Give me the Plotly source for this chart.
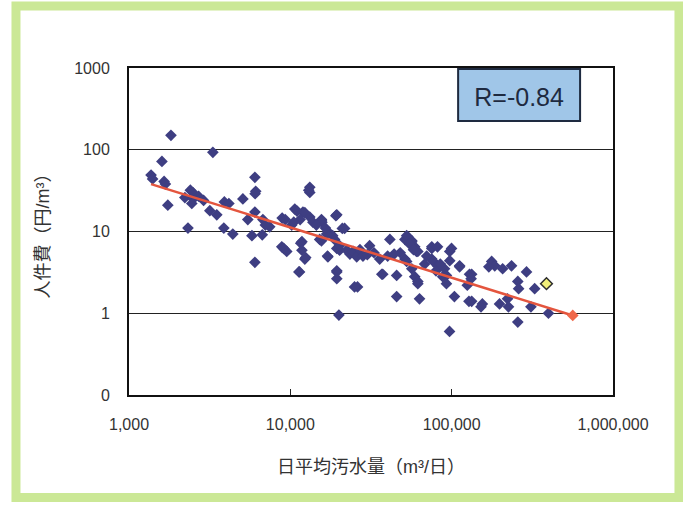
import plotly.graph_objects as go

# Daily average sewage volume (m3/day) and personnel cost (yen/m3)
flow = [
    1370, 1400, 1600, 1650, 1680, 1740, 1820, 2220, 2320, 2400, 2490, 2500, 2450, 2700,
    3170, 3310, 3870, 3900, 4160, 4400, 2900, 3500,
    5080, 5450, 5780, 6030, 6100, 6050, 6030, 6030, 6760, 6700, 7450, 7000, 8900, 8850,
    9300, 9500, 9100,
    10660, 11000, 11970, 12300, 13200, 11500, 13800, 13200, 13200, 13000, 15600, 15600,
    15700, 19150, 19400, 21000, 21700, 17100, 18300, 16800, 15600, 15200, 11800, 11600,
    11800, 12300, 12450, 11300, 11400, 17100, 17000, 19400, 20200, 20200, 18800, 22400,
    19400, 19400, 19400, 20000, 10200, 10500, 14500, 16500,
    23400, 24500, 25800, 27000, 28200, 31000, 26100, 25000, 35800, 36900, 37400, 41400,
    40100, 45600, 45600, 51300, 52600, 53500, 56600, 56600, 57400, 59000, 60500, 61700,
    52600, 51300, 56600, 59000, 61700, 61700, 63200, 55000, 58000, 48000, 44000, 33000,
    30000,
    75300, 75300, 81700, 75300, 77000, 81700, 80000, 88000, 90300, 92800, 92800, 97300,
    99800, 97300, 104000, 97000, 112000, 112000, 129000, 133000, 132000, 125000, 128000,
    133000, 70000, 68000, 85000,
    155000, 152000, 177000, 185000, 207000, 235000, 198000, 222000, 225000, 257000,
    260000, 257000, 291000, 327000, 310000, 398000, 170000,
]
cost = [
    49, 44, 72, 41, 38, 21, 150, 26, 11, 32, 30, 25, 22, 27,
    18, 93, 11, 23, 22, 9.3, 24, 16,
    25, 14, 8.9, 46, 31, 29, 17.3, 4.2, 14, 9.1, 11.4, 12, 14.6, 6.5,
    14, 5.7, 6.2,
    18.8, 17.8, 17.3, 17, 15, 14, 13, 34.8, 30, 32, 14, 13.5,
    13, 15.6, 16, 10.9, 10.9, 10, 8.9, 9.3, 7.7, 8, 7.5, 7.2,
    5.9, 4.6, 4.8, 3.2, 3.2, 4.9, 5, 6.2, 5.9, 6.7, 8, 5.9,
    3.3, 3.2, 2.65, 0.95, 12, 13, 12, 11,
    5.3, 5.7, 4.9, 6, 5.0, 6.7, 2.1, 2.1, 4.6, 3.0, 3, 8,
    5.0, 2.9, 1.6, 8, 8.9, 8.6, 7.7, 7.5, 6.7, 6.5, 5.7, 5.7,
    4.3, 4.6, 3.5, 2.8, 2.3, 2.45, 1.5, 7, 6, 5.5, 5.3, 5.5,
    5.2,
    6.2, 6.5, 6.5, 4.6, 4.3, 3.8, 3.3, 2.8, 3.5, 2.9, 2.3, 5.7,
    6.2, 4.4, 1.6, 0.6, 3.8, 3.7, 3.0, 3.0, 2.65, 2.2, 1.4,
    1.4, 5, 4, 4,
    1.3, 1.2, 4.3, 3.8, 3.5, 3.8, 1.3, 1.5, 1.2, 2.45,
    2.0, 0.78, 3.2, 2.0, 1.2, 1.0, 3.7,
]

# Highlighted plant
highlight_flow = [387000]
highlight_cost = [2.3]

# Power-law trend line end points
trend_flow = [1370, 563000]
trend_cost = [38, 0.94]

x_tickvals = [1000, 10000, 100000, 1000000]
x_ticktext = ["1,000", "10,000", "100,000", "1,000,000"]
y_tickvals = [0.1, 1, 10, 100, 1000]
y_ticktext = ["0", "1", "10", "100", "1000"]

r_label = "R=-0.84"

fig = go.Figure()

fig.add_trace(go.Scatter(
    x=flow, y=cost, mode="markers",
    marker=dict(symbol="diamond", size=9, color="#3E3E82"),
    showlegend=False, hoverinfo="x+y",
))
fig.add_trace(go.Scatter(
    x=trend_flow, y=trend_cost, mode="lines",
    line=dict(color="#E4553E", width=2.5),
    showlegend=False, hoverinfo="skip",
))
fig.add_trace(go.Scatter(
    x=trend_flow[-1:], y=trend_cost[-1:], mode="markers",
    marker=dict(symbol="diamond", size=9, color="#F0684A"),
    showlegend=False, hoverinfo="skip",
))
fig.add_trace(go.Scatter(
    x=highlight_flow, y=highlight_cost, mode="markers",
    marker=dict(symbol="diamond", size=9, color="#F2F07A",
                line=dict(color="#2E2E2E", width=1.5)),
    showlegend=False,
))

font_family = "Liberation Sans, Noto Sans CJK JP, sans-serif"

fig.update_layout(
    width=683, height=505,
    margin=dict(l=129, r=70, t=68, b=110),
    paper_bgcolor="white", plot_bgcolor="white",
    font=dict(family=font_family, color="#333333"),
    xaxis=dict(
        type="log", range=[3, 6],
        tickvals=x_tickvals, ticktext=x_ticktext,
        tickfont=dict(size=16, color="#333333"),
        ticks="inside", ticklen=6, tickcolor="#222222", tickwidth=1,
        showgrid=False, zeroline=False,
        showline=True, linecolor="#111111", linewidth=2, mirror=True,
        ticklabelstandoff=14,
        title=dict(text="日平均汚水量（m³/日）", font=dict(size=18, color="#333333"),
                   standoff=28),
    ),
    yaxis=dict(
        type="log", range=[-1, 3],
        tickvals=y_tickvals, ticktext=y_ticktext,
        tickfont=dict(size=16, color="#333333"),
        ticks="",
        showgrid=True, gridcolor="#222222", gridwidth=1,
        zeroline=False,
        showline=True, linecolor="#111111", linewidth=2, mirror=True,
        ticklabelstandoff=14,
        title=dict(text="人件費（円/m³）", font=dict(size=18, color="#333333"),
                   standoff=20),
    ),
    shapes=[
        dict(type="rect", xref="paper", yref="paper",
             x0=0.68, x1=0.932, y0=0.838, y1=0.997,
             fillcolor="#A0C6E8", line=dict(color="#1E2A40", width=2),
             label=dict(text=r_label, textposition="middle center",
                        font=dict(size=25, color="#1E2A40",
                                  family="Liberation Sans, sans-serif"))),
        dict(type="rect", xref="paper", yref="paper",
             x0=-0.2335, x1=1.1363, y0=-0.3135, y1=1.1896,
             fillcolor="rgba(0,0,0,0)", line=dict(color="#CBE896", width=9),
             layer="below"),
    ],
)

fig.write_html("out.html",
               config={"displayModeBar": False},
               post_script="document.body.style.margin='0';document.body.style.overflow='hidden';")
